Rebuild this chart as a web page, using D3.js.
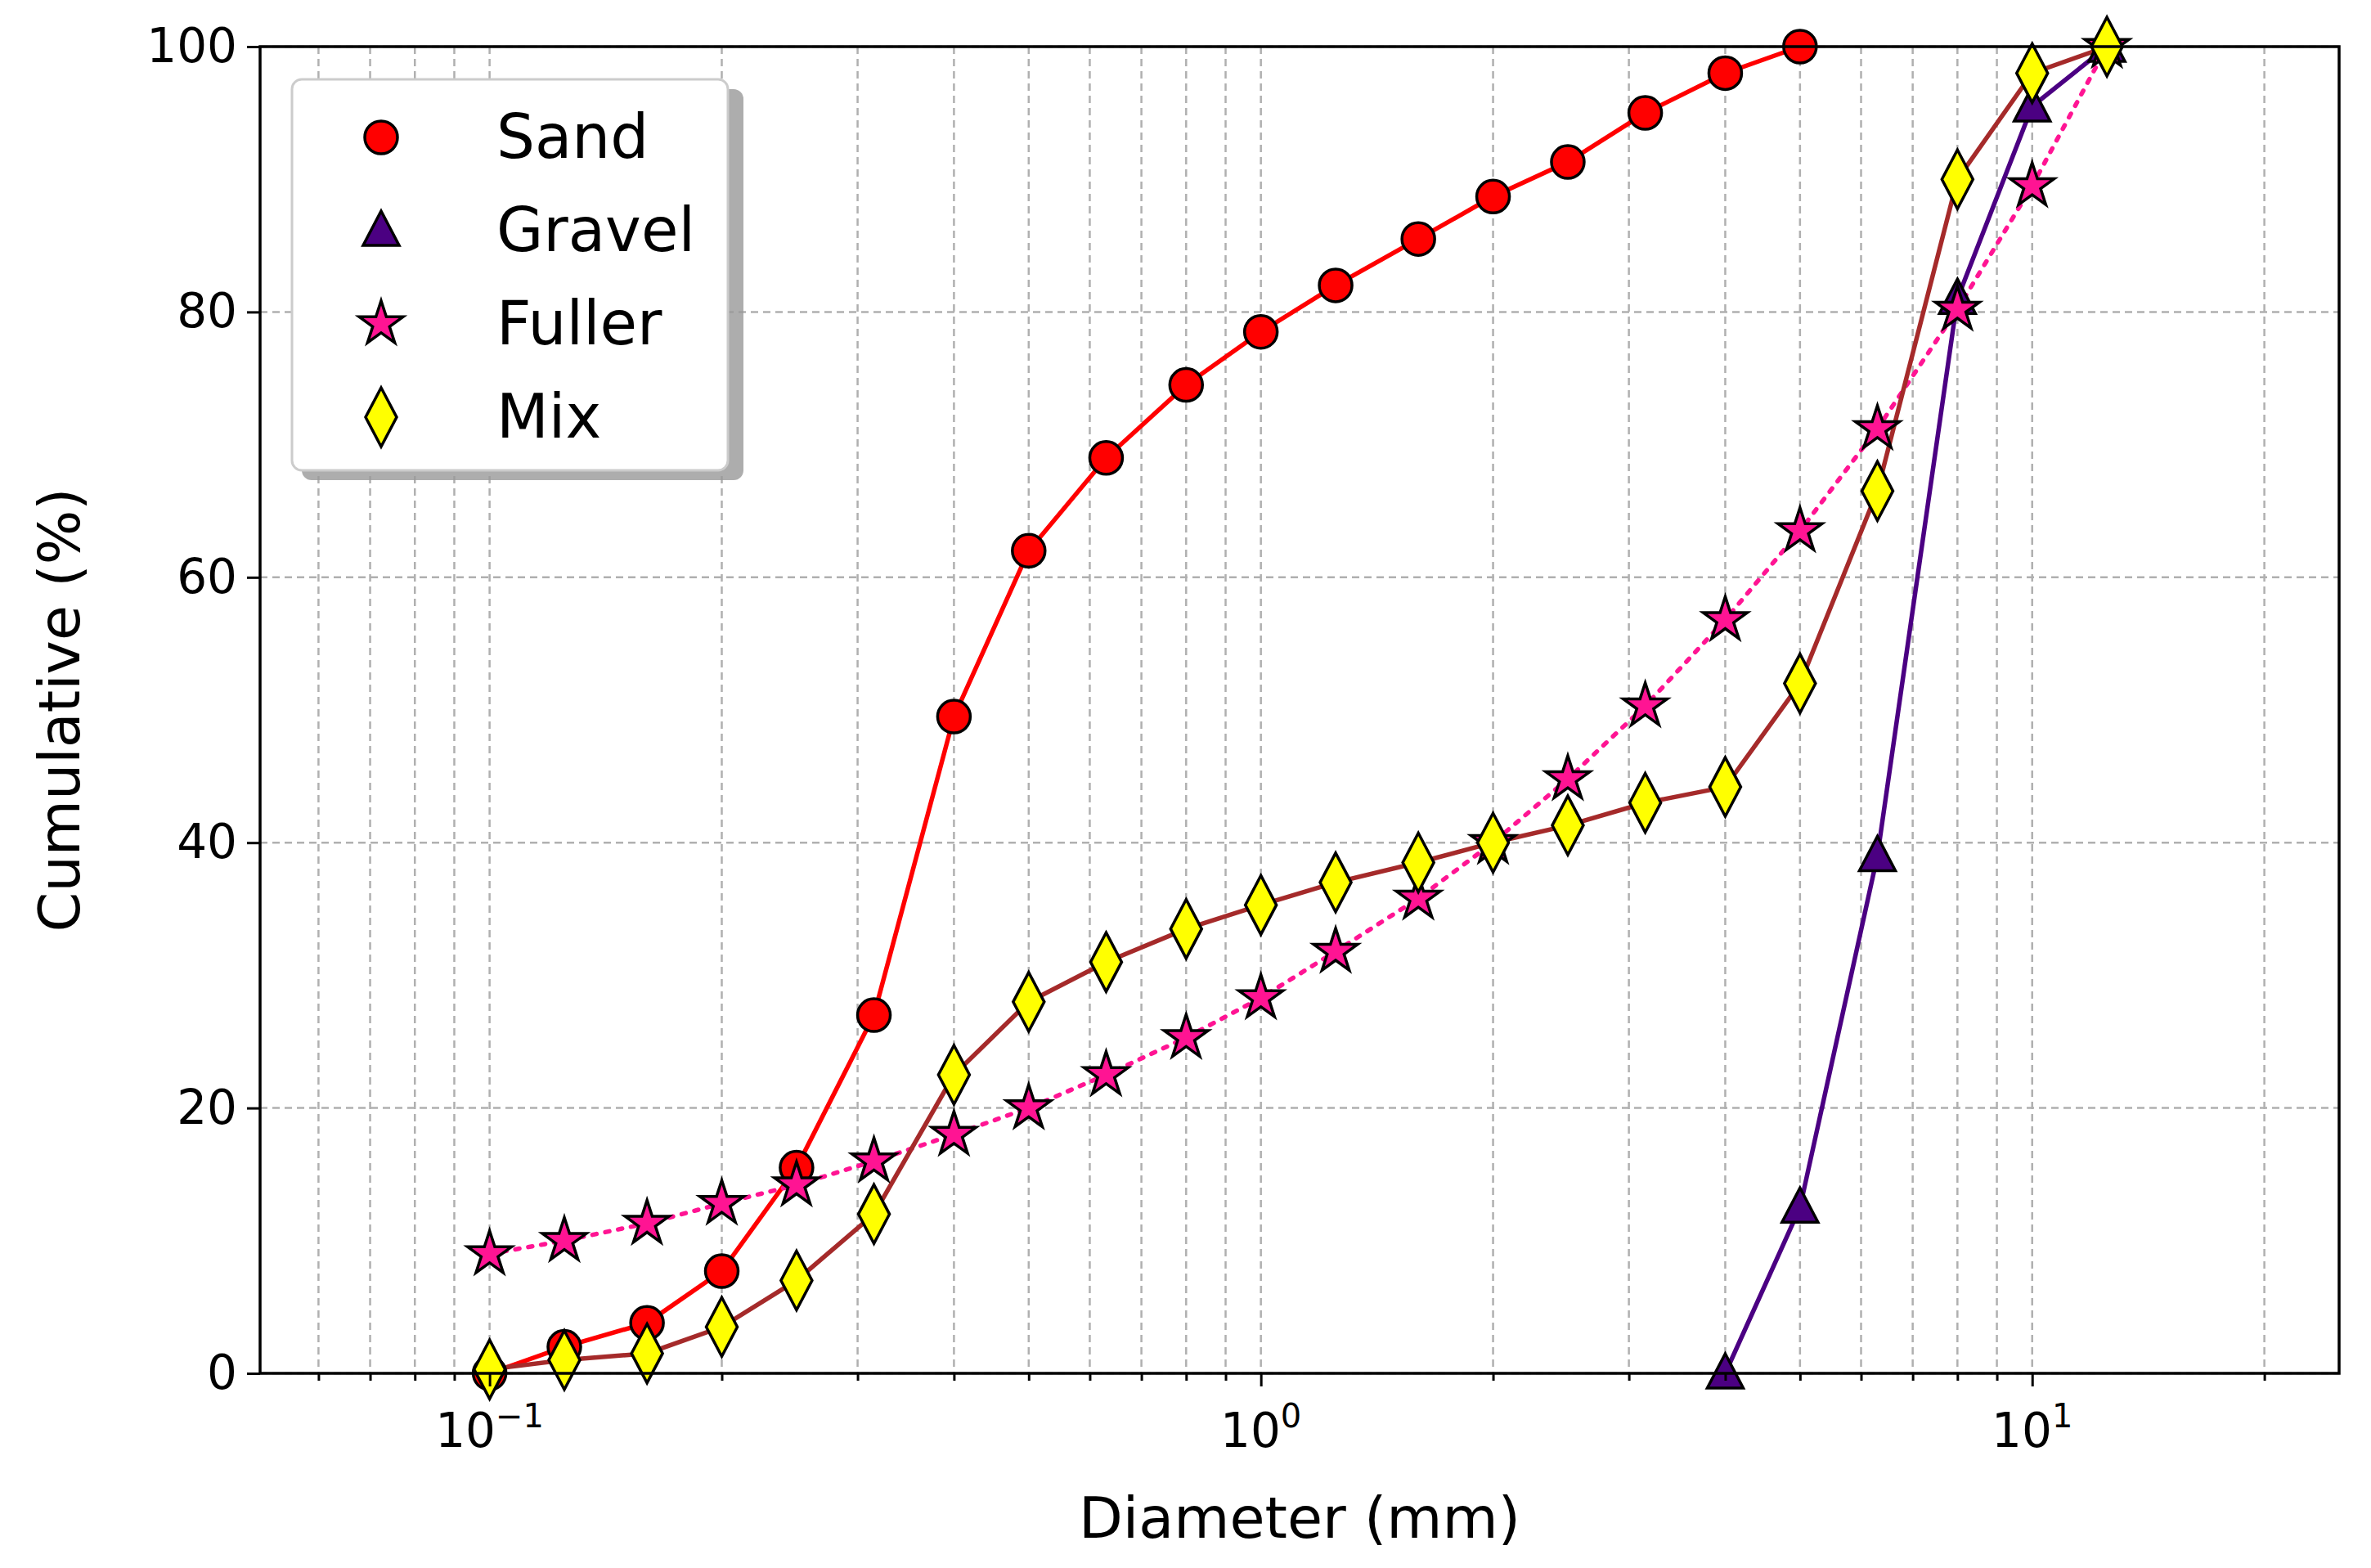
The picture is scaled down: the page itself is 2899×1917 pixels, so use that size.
<!DOCTYPE html><html><head><meta charset="utf-8"><script src="https://cdn.jsdelivr.net/npm/d3@7"></script>
<style>body{margin:0;background:#fff}text{font-family:"DejaVu Sans",sans-serif}</style></head><body><svg id="c" width="2899" height="1917"></svg>
<script>
const sizes=[0.1,0.125,0.16,0.2,0.25,0.315,0.4,0.5,0.63,0.8,1,1.25,1.6,2,2.5,3.15,4,5,6.3,8,10,12.5];
const sandX=sizes.slice(0,18);
const sandY=[0,2,3.8,7.7,15.5,27,49.5,62,69,74.5,78.5,82,85.5,88.7,91.3,95,98,100];
const gravelX=[4,5,6.3,8,10,12.5];
const gravelY=[0,12.5,39,81,95.5,100];
const fullerY=[9,10,11.3,12.8,14.2,16,18,20,22.5,25.3,28.3,31.8,35.8,40,44.8,50.3,56.8,63.5,71.2,80.2,89.5,100];
const mixY=[0.3,1,1.5,3.5,7,12,22.5,28,31,33.5,35.3,37,38.5,40,41.3,43,44.2,52,66.5,90,98,100];
const yTicks=[0,20,40,60,80,100];
const series=[
 {name:"Sand",x:sandX,y:sandY,line:"#ff0000",fill:"#ff0000",sym:"circle",dash:null},
 {name:"Gravel",x:gravelX,y:gravelY,line:"#4b0082",fill:"#4b0082",sym:"triangle",dash:null},
 {name:"Fuller",x:sizes,y:fullerY,line:"#ff1493",fill:"#ff1493",sym:"star",dash:"5,11"},
 {name:"Mix",x:sizes,y:mixY,line:"#a52a2a",fill:"#ffff00",sym:"diamond",dash:null}];
const L=318,R=2860,T=57,B=1679;
const svg=d3.select("#c");
const x=d3.scaleLog().domain([0.0504,25]).range([L,R]);
const y=d3.scaleLinear().domain([0,100]).range([B,T]);
const g=svg.append("g");
// grid
const minor=[];for(let e=-2;e<=1;e++)for(let k=1;k<10;k++){const v=k*Math.pow(10,e);if(v>=0.0504&&v<=25)minor.push(v);}
g.selectAll(".gx").data(minor).enter().append("line").attr("x1",d=>x(d)).attr("x2",d=>x(d)).attr("y1",T).attr("y2",B).attr("stroke","#b0b0b0").attr("stroke-width",2.5).attr("stroke-dasharray","9,6");
g.selectAll(".gy").data(yTicks).enter().append("line").attr("x1",L).attr("x2",R).attr("y1",d=>y(d)).attr("y2",d=>y(d)).attr("stroke","#b0b0b0").attr("stroke-width",2.5).attr("stroke-dasharray","9,6");
// lines
const sym={circle:d3.symbolCircle,triangle:d3.symbolTriangle,star:d3.symbolStar,diamond:d3.symbolDiamond};
series.forEach(s=>{
 const pts=s.x.map((v,i)=>[v,s.y[i]]);
 g.append("path").attr("d",d3.line().x(d=>x(d[0])).y(d=>y(d[1]))(pts)).attr("fill","none").attr("stroke",s.line).attr("stroke-width",5.5).attr("stroke-dasharray",s.dash).attr("stroke-linecap",s.dash?"round":"butt");
});
function marker(sel,s){
 if(s.sym==="diamond") sel.append("path").attr("d","M0,-36L19,0L0,36L-19,0Z");
 else if(s.sym==="star") sel.append("path").attr("d",d3.symbol(sym.star,900)());
 else if(s.sym==="triangle") sel.append("path").attr("d","M0,-24L22,18L-22,18Z");
 else sel.append("circle").attr("r",20);
 sel.selectAll("path,circle").attr("fill",s.fill).attr("stroke","#000").attr("stroke-width",3.5);
}
series.forEach(s=>{s.x.forEach((v,i)=>{const m=g.append("g").attr("transform",`translate(${x(v)},${y(s.y[i])})`);marker(m,s);});});
// axes
const xa=d3.axisBottom(x).tickValues([0.1,1,10]).tickFormat(()=>"").tickSize(16);
const xg=svg.append("g").attr("transform",`translate(0,${B})`).call(xa);
svg.append("g").attr("transform",`translate(0,${B})`).call(d3.axisBottom(x).tickValues(minor.filter(v=>![0.1,1,10].includes(+v.toPrecision(3)))).tickFormat(()=>"").tickSize(9)).call(a=>a.select(".domain").remove());
const ya=d3.axisLeft(y).tickValues(yTicks).tickSize(16).tickPadding(12);
const yg=svg.append("g").attr("transform",`translate(${L},0)`).call(ya);
svg.selectAll(".tick line").attr("stroke","#000").attr("stroke-width",3);
yg.selectAll("text").attr("font-size",58).attr("fill","#000");
svg.append("rect").attr("x",L).attr("y",T).attr("width",R-L).attr("height",B-T).attr("fill","none").attr("stroke","#000").attr("stroke-width",3.5);
svg.selectAll(".domain").remove();
[[0.1,"−1"],[1,"0"],[10,"1"]].forEach(([v,e])=>{
 const t=svg.append("text").attr("x",x(v)).attr("y",B+90).attr("text-anchor","middle").attr("font-size",58);
 t.append("tspan").text("10");t.append("tspan").attr("dy",-24).attr("font-size",40).text(e);
});
svg.append("text").attr("x",(L+R)/2).attr("y",1880).attr("text-anchor","middle").attr("font-size",70).text("Diameter (mm)");
svg.append("text").attr("transform",`translate(97,${(T+B)/2}) rotate(-90)`).attr("text-anchor","middle").attr("font-size",70).text("Cumulative (%)");
// legend
svg.append("rect").attr("x",369).attr("y",109).attr("width",540).attr("height",478).attr("rx",12).attr("fill","#999").attr("opacity",0.8);
svg.append("rect").attr("x",357).attr("y",97).attr("width",533).attr("height",478).attr("rx",12).attr("fill","#fff").attr("stroke","#ccc").attr("stroke-width",3);
series.forEach((s,i)=>{const yy=168+i*114;const m=svg.append("g").attr("transform",`translate(466,${yy})`);marker(m,s);
 svg.append("text").attr("x",607).attr("y",yy+25).attr("font-size",74).text(s.name);});
</script></body></html>
